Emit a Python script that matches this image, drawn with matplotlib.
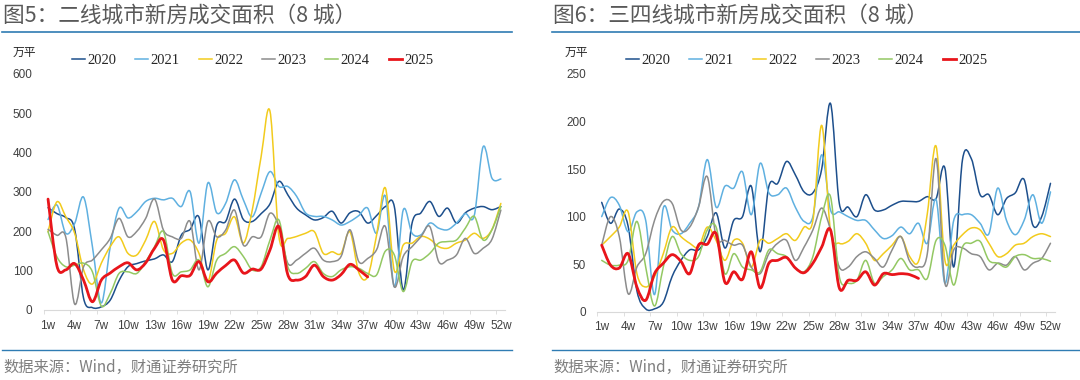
import numpy as np
import matplotlib
matplotlib.use('Agg')
import matplotlib.pyplot as plt
from matplotlib.path import Path
from matplotlib.patches import PathPatch
from matplotlib.lines import Line2D

plt.rcParams['font.family'] = ['Liberation Sans', 'Noto Sans CJK SC']

years = ['2020', '2021', '2022', '2023', '2024', '2025']
colors = ['#1d4f8c', '#5fb0e0', '#f2cb1d', '#8c8c8c', '#93c863', '#e8151b']
week_labels = ['%dw' % w for w in range(1, 53, 3)]

# 二线城市 (8城), 万平
tier2_2020 = [260, 245, 235, 205, 30, 6, 8, 25, 75, 110, 118, 125, 130, 140, 123, 190, 205, 236, 102, 215,
              225, 282, 230, 225, 245, 270, 327, 293, 259, 242, 229, 235, 251, 221, 247, 250, 221, 240, 263, 263,
              51, 221, 247, 276, 238, 259, 221, 247, 259, 263, 255, 263]
tier2_2021 = [230, 267, 195, 220, 287, 161, 18, 160, 259, 234, 250, 276, 284, 280, 284, 263, 301, 170, 323, 247,
              271, 331, 280, 237, 297, 352, 314, 314, 289, 247, 238, 238, 229, 216, 225, 240, 259, 195, 289, 59,
              254, 195, 191, 221, 208, 204, 221, 245, 240, 415, 335, 333]
tier2_2022 = [199, 275, 237, 195, 102, 66, 119, 161, 186, 144, 140, 178, 225, 153, 144, 170, 178, 144, 72, 178,
              195, 237, 170, 254, 390, 505, 187, 182, 187, 195, 199, 144, 148, 144, 199, 95, 85, 190, 310, 100,
              165, 170, 187, 180, 161, 157, 170, 178, 195, 182, 205, 271]
tier2_2023 = [205, 190, 185, 15, 110, 127, 153, 182, 233, 186, 200, 233, 282, 203, 186, 182, 225, 102, 225, 186,
              203, 254, 165, 186, 186, 246, 212, 119, 127, 144, 157, 127, 123, 136, 204, 123, 131, 153, 212, 59,
              136, 161, 186, 212, 123, 127, 140, 182, 144, 157, 180, 254]
tier2_2024 = [199, 135, 110, 114, 119, 97, 10, 42, 93, 97, 93, 123, 161, 199, 93, 97, 102, 127, 59, 127,
              144, 161, 136, 102, 110, 178, 229, 110, 93, 106, 123, 93, 85, 102, 110, 106, 93, 89, 150, 140,
              47, 123, 127, 144, 170, 174, 178, 208, 238, 178, 204, 263]
tier2_2025 = [282, 112, 102, 118, 76, 21, 76, 94, 110, 120, 102, 120, 157, 178, 76, 87, 88, 123, 72, 94,
              113, 127, 94, 104, 104, 153, 212, 90, 76, 85, 114, 85, 76, 90, 116, 102, 84]

# 三四线城市 (8城), 万平
tier34_2020 = [115, 93, 108, 90, 22, 3, 3, 10, 37, 54, 65, 65, 79, 104, 67, 96, 100, 132, 63, 132,
               135, 158, 144, 126, 125, 150, 219, 114, 110, 100, 123, 107, 107, 112, 116, 116, 116, 121, 119, 151,
               47, 160, 161, 123, 123, 102, 119, 125, 139, 91, 100, 135]
tier34_2021 = [100, 120, 112, 84, 105, 96, 18, 109, 86, 82, 93, 110, 160, 110, 132, 130, 147, 102, 156, 125,
               123, 130, 110, 95, 100, 165, 107, 105, 100, 96, 96, 86, 77, 80, 89, 82, 93, 72, 118, 30,
               96, 102, 102, 93, 82, 130, 96, 81, 96, 123, 93, 126]
tier34_2022 = [70, 79, 89, 105, 40, 26, 37, 61, 89, 79, 72, 68, 89, 75, 54, 75, 72, 47, 75, 72,
               77, 82, 75, 89, 96, 196, 85, 72, 74, 82, 72, 54, 61, 70, 79, 58, 53, 103, 174, 54,
               70, 81, 88, 86, 72, 58, 61, 70, 72, 79, 82, 79]
tier34_2023 = [70, 100, 79, 19, 47, 61, 96, 116, 114, 86, 89, 110, 142, 79, 75, 70, 70, 47, 40, 61,
               72, 75, 54, 68, 86, 109, 86, 47, 47, 58, 63, 56, 47, 65, 79, 53, 47, 61, 161, 30,
               65, 67, 61, 58, 44, 51, 49, 58, 44, 51, 56, 72]
tier34_2024 = [54, 49, 49, 54, 95, 47, 6, 47, 79, 61, 54, 58, 86, 89, 40, 61, 47, 44, 42, 65,
               61, 58, 46, 42, 58, 100, 121, 37, 30, 33, 54, 30, 37, 44, 56, 44, 44, 35, 75, 70,
               28, 68, 72, 74, 54, 51, 47, 58, 60, 56, 56, 53]
tier34_2025 = [70, 49, 46, 61, 26, 12, 40, 51, 60, 53, 40, 70, 71, 82, 31, 42, 34, 63, 25, 51,
               54, 57, 46, 41, 51, 68, 86, 25, 33, 33, 42, 28, 40, 39, 40, 39, 35]

tier2 = [tier2_2020, tier2_2021, tier2_2022, tier2_2023, tier2_2024, tier2_2025]
tier34 = [tier34_2020, tier34_2021, tier34_2022, tier34_2023, tier34_2024, tier34_2025]

CJK = ['Noto Sans CJK SC', 'DejaVu Sans']
W, H = 1080, 380


def smooth_path(x, y):
    # excel style smoothed line, bezier through every point
    pts = np.column_stack([x, y]).astype(float)
    n = len(pts)
    verts = [pts[0]]
    codes = [Path.MOVETO]
    for i in range(n - 1):
        p0 = pts[max(i - 1, 0)]
        p1 = pts[i]
        p2 = pts[i + 1]
        p3 = pts[min(i + 2, n - 1)]
        verts += [p1 + (p2 - p0) / 6, p2 - (p3 - p1) / 6, p2]
        codes += [Path.CURVE4] * 3
    return Path(verts, codes)


def draw_panel(fig, rect, series, ymax, ystep, legend_x, unit_x, title, title_x, rule_x):
    ax = fig.add_axes(rect)
    for values, color, year in zip(series, colors, years):
        weeks = np.arange(1, len(values) + 1)
        lw = 2.0 if year == '2025' else 1.1
        ax.add_patch(PathPatch(smooth_path(weeks, values), facecolor='none', edgecolor=color,
                               lw=lw, capstyle='round', joinstyle='round', zorder=3 if year == '2025' else 2))

    ax.set_xlim(0.5, 52.5)
    ax.set_ylim(0, ymax)
    ax.set_yticks(np.arange(0, ymax + 1, ystep))
    ax.set_xticks(np.arange(1, 53, 3))
    ax.set_xticklabels(week_labels)
    ax.set_xticks(np.arange(1, 53, 3) - 0.5, minor=True)
    ax.tick_params(axis='both', which='major', length=0, labelsize=8.5, labelcolor='#404040')
    ax.tick_params(axis='x', which='major', pad=7)
    ax.tick_params(axis='y', which='major', pad=8)
    ax.tick_params(axis='x', which='minor', length=3, color='#d9d9d9')
    for side in ['top', 'right', 'left']:
        ax.spines[side].set_visible(False)
    ax.spines['bottom'].set_color('#d9d9d9')

    handles = [Line2D([], [], color=c, lw=2.0 if y == '2025' else 1.1) for c, y in zip(colors, years)]
    fig.legend(handles, years, loc='center left', bbox_to_anchor=(legend_x / W, 1 - 60 / H),
               ncol=6, frameon=False, borderpad=0, borderaxespad=0, handlelength=0.9,
               handletextpad=0.15, columnspacing=1.3,
               prop={'family': 'Liberation Serif', 'size': 10.5}, labelcolor='#262626')

    fig.text(unit_x / W, 1 - 52 / H, '万平', family=CJK, fontsize=8.5, color='#262626', va='center')
    fig.text(title_x / W, 1 - 16 / H, title, family=CJK, fontsize=15.6, color='#595959', va='center')
    fig.add_artist(Line2D([rule_x[0] / W, rule_x[1] / W], [1 - 32 / H] * 2, transform=fig.transFigure,
                          color='#2f7cb3', lw=1.2))
    fig.add_artist(Line2D([rule_x[0] / W, rule_x[1] / W], [1 - 350 / H] * 2, transform=fig.transFigure,
                          color='#2f7cb3', lw=1.0))
    fig.text(title_x / W, 1 - 367 / H, '数据来源：Wind，财通证券研究所', family=CJK, fontsize=11,
             color='#7f7f7f', va='center')
    return ax


fig = plt.figure(figsize=(W / 100, H / 100), dpi=100)

draw_panel(fig, [43.6 / W, 70 / H, 461.7 / W, 236 / H], tier2, 600, 100, 72, 13,
           '图5：二线城市新房成交面积（8 城）', 3, (2, 512))
draw_panel(fig, [597.3 / W, 68.3 / H, 457.6 / W, 237.7 / H], tier34, 250, 50, 626, 565,
           '图6：三四线城市新房成交面积（8 城）', 553, (552, 1080))

fig.savefig('out.png', dpi=100)
